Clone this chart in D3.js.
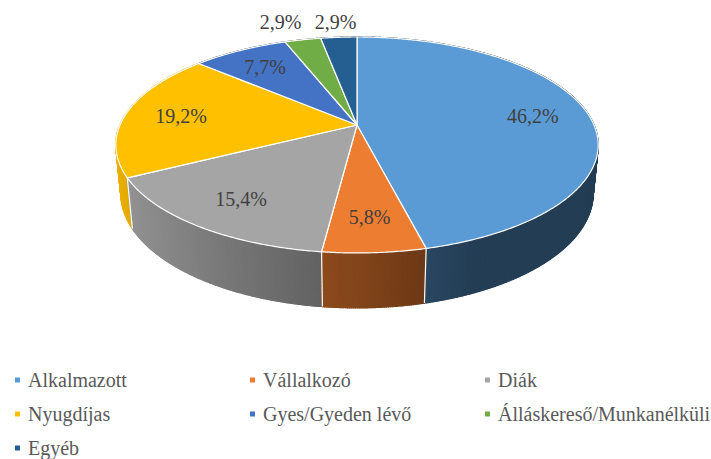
<!DOCTYPE html>
<html>
<head>
<meta charset="utf-8">
<script src="https://cdn.jsdelivr.net/npm/d3@7"></script>
<style>
  body { margin: 0; }
  svg text { font-family: "Times New Roman", "Liberation Serif", Tinos, serif !important; }
</style>
</head>
<body>
<script>
const categories = ["Alkalmazott", "Vállalkozó", "Diák", "Nyugdíjas", "Gyes/Gyeden lévő", "Álláskereső/Munkanélküli", "Egyéb"];
const values = [46.2, 5.8, 15.4, 19.2, 7.7, 2.9, 2.9];
const colors = ["#5B9BD5", "#ED7D31", "#A5A5A5", "#FFC000", "#4472C4", "#70AD47", "#255E91"];

const W = 711, H = 459;
const svg = d3.select("body").append("svg").attr("width", W).attr("height", H)
  .style("display", "block");
svg.append("rect").attr("width", W).attr("height", H).attr("fill", "#fff");

// perspective projection of the pie cylinder
const cx = 357, cy = 125, A = 237;
const sinT = 0.44, cosT = 0.898, persp = 0.206, thick = 0.228;
function project(a, r, h) {
  const x = r * Math.sin(a), z = -r * Math.cos(a), y = h;
  const Y = z * sinT + y * cosT;
  const depth = 1 - persp * (z * cosT - y * sinT);
  return [cx + A * x / depth, cy + A * Y / depth];
}

const arcs = d3.pie().sort(null).value(d => d)(values);
const g = svg.append("g");

// walls: small quads sorted back to front
const quads = [];
arcs.forEach((d, i) => {
  const span = d.endAngle - d.startAngle;
  const n = Math.max(2, Math.ceil(span / (0.4 * Math.PI / 180)));
  for (let k = 0; k < n; k++) {
    const a0 = d.startAngle + span * k / n, a1 = d.startAngle + span * (k + 1) / n;
    const am = (a0 + a1) / 2;
    const f = Math.max(0.4, Math.min(0.93, 0.55 - 0.38 * Math.sin(am)));
    const c = d3.rgb(colors[i]);
    const col = d3.rgb(c.r * f, c.g * f, c.b * f).formatHex();
    quads.push({
      z: -Math.cos(am),
      pts: [project(a0, 1, 0), project(a1, 1, 0), project(a1, 1, thick), project(a0, 1, thick)],
      col
    });
  }
});
quads.sort((p, q) => p.z - q.z);
g.selectAll("path.wall").data(quads).join("path")
  .attr("class", "wall")
  .attr("d", q => "M" + q.pts.map(p => p.join(",")).join("L") + "Z")
  .attr("fill", q => q.col)
  .attr("stroke", q => q.col)
  .attr("stroke-width", 1.3)
  .attr("stroke-linejoin", "round");

// white boundaries on visible walls
arcs.forEach(d => {
  const a = d.startAngle;
  if (-Math.cos(a) > persp / cosT) {
    const p0 = project(a, 1, 0), p1 = project(a, 1, thick);
    g.append("line").attr("x1", p0[0]).attr("y1", p0[1]).attr("x2", p1[0]).attr("y2", p1[1])
      .attr("stroke", "#fff").attr("stroke-width", 1.2);
  }
});

// top faces
const line = d3.line();
g.selectAll("path.top").data(arcs).join("path")
  .attr("class", "top")
  .attr("d", d => {
    const span = d.endAngle - d.startAngle;
    const n = Math.max(2, Math.ceil(span / (0.5 * Math.PI / 180)));
    const pts = [project(0, 0, 0)];
    for (let k = 0; k <= n; k++) pts.push(project(d.startAngle + span * k / n, 1, 0));
    return line(pts) + "Z";
  })
  .attr("fill", (d, i) => colors[i])
  .attr("stroke", "#fff")
  .attr("stroke-width", 1.2)
  .attr("stroke-linejoin", "round");

// data labels
const fmt = v => v.toFixed(1).replace(".", ",") + "%";
const lab = arcs.map((d, i) => {
  const mid = (d.startAngle + d.endAngle) / 2;
  const outside = values[i] < 5;
  const p = project(mid, outside ? 1.22 : 0.76, 0);
  return { x: p[0], y: p[1], text: fmt(values[i]), outside };
});
// keep outside labels apart
const outs = lab.filter(l => l.outside).sort((a, b) => b.x - a.x);
for (let k = 1; k < outs.length; k++) {
  if (outs[k - 1].x - outs[k].x < 55) outs[k].x = outs[k - 1].x - 55;
  outs[k].y = outs[0].y = Math.min(outs[k].y, outs[0].y);
}
lab.forEach(d => {
  svg.append("text")
    .attr("x", d.x).attr("y", d.y + 7)
    .attr("text-anchor", "middle")
    .attr("font-size", 20)
    .attr("fill", "#404040")
    .text(d.text);
});

// legend
const colX = [15, 250, 485];
const rowY = [380, 414, 448];
categories.forEach((name, i) => {
  const x = colX[i % 3], y = rowY[Math.floor(i / 3)];
  svg.append("rect").attr("x", x).attr("y", y - 2.5).attr("width", 5).attr("height", 5)
    .attr("fill", colors[i]);
  svg.append("text").attr("x", x + 13).attr("y", y + 7)
    .attr("font-size", 20)
    .attr("fill", "#595959")
    .text(name);
});
</script>
</body>
</html>
